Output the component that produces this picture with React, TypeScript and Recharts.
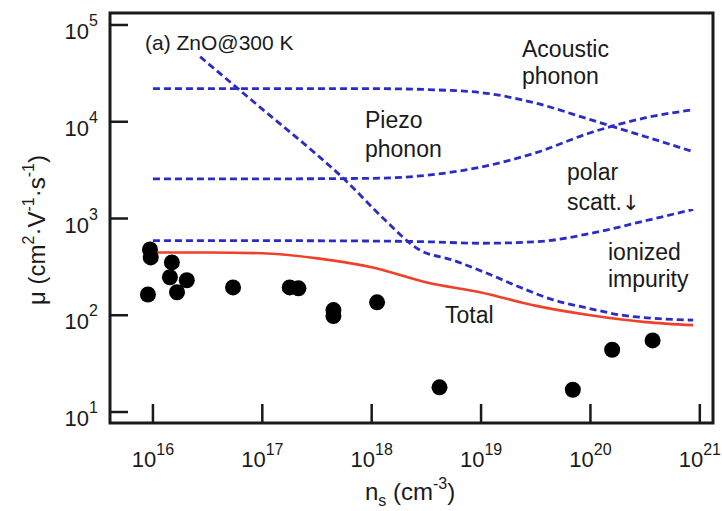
import React from "react";
import {
  ComposedChart,
  Line,
  ReferenceArea,
  Scatter,
  XAxis,
  YAxis,
} from "recharts";

// Room-temperature electron mobility of ZnO vs. carrier density: the partial
// scattering limits (dashed), their combined total (red) and measured samples.

const FONT = "'Liberation Sans', Arial, Helvetica, sans-serif";
const INK = "#1a1a1a";
const BLUE = "#2b2bc6";
const RED = "#f0402a";

const X_DOMAIN = [4.05e15, 1.32e21];
const Y_DOMAIN = [7.7, 1.33e5];
const X_TICKS = [1e16, 1e17, 1e18, 1e19, 1e20, 1e21];
const Y_TICKS = [1e1, 1e2, 1e3, 1e4, 1e5];

// shared density grid for the phonon-limited curves
const PHONON_N = [1e16, 1e17, 1e18, 3.2e18, 1e19, 3.2e19, 1e20, 3.2e20, 8.7e20];
const ACOUSTIC_MU = [22000, 22000, 22000, 21500, 20000, 15500, 10500, 7000, 4900];
const PIEZO_MU = [2570, 2570, 2600, 2800, 3400, 4800, 7700, 11000, 13300];
const POLAR_MU = [590, 590, 585, 575, 555, 575, 700, 950, 1240];

const IONIZED_N = [
  2.7e16, 1e17, 3.2e17, 5.6e17, 1.26e18, 2.75e18, 5.5e18, 1.12e19,
  2.24e19, 4.57e19, 9.3e19, 1.86e20, 3.72e20, 8.7e20,
];
const IONIZED_MU = [47000, 13500, 4500, 2560, 1020, 472, 372, 273, 196, 144, 119, 101, 93, 89];

const TOTAL_N = [1e16, 3.2e16, 1e17, 3.2e17, 1e18, 3.2e18, 1e19, 3.2e19, 1e20, 3.2e20, 8.7e20];
const TOTAL_MU = [445, 445, 437, 387, 313, 218, 172, 125, 100, 85, 79];

// measured films
const SAMPLE_N = [
  9.0e15, 9.4e15, 9.55e15, 1.49e16, 1.43e16, 2.04e16, 1.66e16, 5.4e16,
  1.78e17, 2.14e17, 4.47e17, 4.47e17, 1.12e18, 4.17e18, 6.9e19, 1.58e20, 3.7e20,
];
const SAMPLE_MU = [164, 479, 396, 352, 247, 230, 173, 194, 194, 190, 113, 98, 136, 18, 17, 44, 55];

const zip = (n: number[], mu: number[]) => n.map((v, i) => ({ n: v, mu: mu[i] }));

const acoustic = zip(PHONON_N, ACOUSTIC_MU);
const piezo = zip(PHONON_N, PIEZO_MU);
const polar = zip(PHONON_N, POLAR_MU);
const ionized = zip(IONIZED_N, IONIZED_MU);
const total = zip(TOTAL_N, TOTAL_MU);
const samples = zip(SAMPLE_N, SAMPLE_MU);

function XTick({ x, y, payload }: any) {
  const exp = Math.round(Math.log10(payload.value));
  return (
    <g>
      <line x1={x} x2={x} y1={y} y2={y - 19} stroke={INK} strokeWidth={2.5} />
      <text x={x} y={y + 44} textAnchor="middle" fontSize={22} fill={INK} fontFamily={FONT}>
        10<tspan dy={-12} fontSize={16}>{exp}</tspan>
      </text>
    </g>
  );
}

function YTick({ x, y, payload }: any) {
  const exp = Math.round(Math.log10(payload.value));
  return (
    <g>
      <line x1={x} x2={x + 18} y1={y} y2={y} stroke={INK} strokeWidth={2.5} />
      <text x={x - 12} y={y + 14} textAnchor="end" fontSize={22} fill={INK} fontFamily={FONT}>
        10<tspan dy={-13} fontSize={16}>{exp}</tspan>
      </text>
    </g>
  );
}

const Dot = (p: any) => <circle cx={p.cx} cy={p.cy} r={8} fill="#000" />;

const dashed = {
  type: "monotone" as const,
  dataKey: "mu",
  stroke: BLUE,
  strokeWidth: 2.8,
  strokeDasharray: "7 4",
  dot: false,
  activeDot: false,
  isAnimationActive: false,
};

export default function App() {
  return (
    <div style={{ position: "absolute", left: 0, top: 0, width: 722, height: 511, background: "#fff" }}>
      <ComposedChart width={722} height={511} margin={{ top: 13, right: 9, bottom: 0, left: 0 }}>
        <XAxis
          type="number"
          dataKey="n"
          scale="log"
          domain={X_DOMAIN}
          ticks={X_TICKS}
          interval={0}
          allowDataOverflow
          height={88}
          tickSize={0}
          tickMargin={0}
          tickLine={false}
          axisLine={false}
          tick={<XTick />}
        />
        <YAxis
          type="number"
          dataKey="mu"
          scale="log"
          domain={Y_DOMAIN}
          ticks={Y_TICKS}
          interval={0}
          allowDataOverflow
          width={110}
          tickSize={0}
          tickMargin={0}
          tickLine={false}
          axisLine={false}
          tick={<YTick />}
        />
        <Line data={acoustic} {...dashed} />
        <Line data={piezo} {...dashed} />
        <Line data={polar} {...dashed} />
        <Line data={ionized} {...dashed} />
        <Line
          data={total}
          type="monotone"
          dataKey="mu"
          stroke={RED}
          strokeWidth={2.6}
          dot={false}
          activeDot={false}
          isAnimationActive={false}
        />
        <Scatter data={samples} dataKey="mu" shape={Dot} isAnimationActive={false} />
        <ReferenceArea
          x1={X_DOMAIN[0]}
          x2={X_DOMAIN[1]}
          y1={Y_DOMAIN[0]}
          y2={Y_DOMAIN[1]}
          fill="none"
          fillOpacity={0}
          stroke={INK}
          strokeWidth={3}
          ifOverflow="visible"
        />
      </ComposedChart>

      <svg
        width={722}
        height={511}
        style={{ position: "absolute", left: 0, top: 0, pointerEvents: "none" }}
        fontFamily={FONT}
        fill={INK}
      >
        <text x={145} y={50} fontSize={21}>(a) ZnO@300 K</text>
        <text x={522} y={57} fontSize={23}>Acoustic</text>
        <text x={522} y={84} fontSize={23}>phonon</text>
        <text x={365} y={128} fontSize={23}>Piezo</text>
        <text x={365} y={157} fontSize={23}>phonon</text>
        <text x={567} y={180} fontSize={23}>polar</text>
        <text x={567} y={210} fontSize={23}>
          scatt.<tspan fontFamily="'DejaVu Sans', sans-serif" fontSize={21}>↓</tspan>
        </text>
        <text x={608} y={260} fontSize={23}>ionized</text>
        <text x={608} y={287} fontSize={23}>impurity</text>
        <text x={445} y={323} fontSize={23}>Total</text>

        <text x={410} y={500} textAnchor="middle" fontSize={24}>
          n<tspan dy={6} fontSize={16}>s</tspan>
          <tspan dy={-6}> (cm</tspan>
          <tspan dy={-11} fontSize={16}>-3</tspan>
          <tspan dy={11}>)</tspan>
        </text>
        <text transform="translate(45,230) rotate(-90)" textAnchor="middle" fontSize={24}>
          μ (cm<tspan dy={-11} fontSize={16}>2</tspan>
          <tspan dy={11}>·V</tspan>
          <tspan dy={-11} fontSize={16}>-1</tspan>
          <tspan dy={11}>·s</tspan>
          <tspan dy={-11} fontSize={16}>-1</tspan>
          <tspan dy={11}>)</tspan>
        </text>
      </svg>
    </div>
  );
}
